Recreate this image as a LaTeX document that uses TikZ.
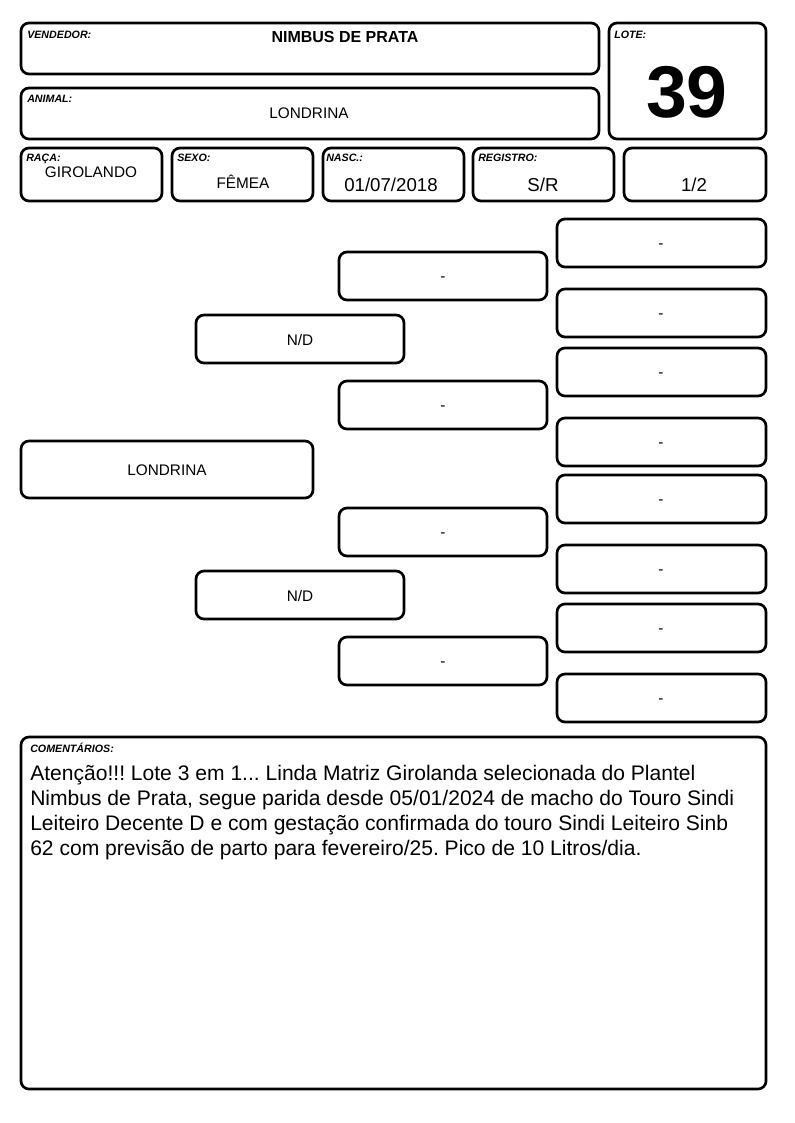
\documentclass[tikz,border=0pt]{standalone}
\usepackage{fontspec}
\setmainfont{Liberation Sans}
\frenchspacing

\begin{document}
\begin{tikzpicture}[x=0.75pt,y=-0.75pt,
    box/.style={draw,line width=2pt,rounded corners=6pt},
    tag/.style={anchor=base west,inner sep=0pt,font=\fontsize{8}{9}\selectfont\bfseries\itshape},
    val/.style={anchor=base,inner sep=0pt,font=\fontsize{11.5}{13}\selectfont},
    big/.style={anchor=base,inner sep=0pt,font=\fontsize{14}{16}\selectfont}]
  % Page
  \fill[white] (0,0) rectangle (794,1123);
  \useasboundingbox (0,0) rectangle (794,1123);
  % Header
  \draw[box] (21,23) rectangle (599,74);
  \node[tag] (vendtag) at (27,39) {VENDEDOR:};
  \node[val,font=\fontsize{12}{13}\selectfont\bfseries] (vend) at (345,43) {NIMBUS DE PRATA};
  \draw[box] (21,88) rectangle (599,139);
  \node[tag] (animaltag) at (27,103) {ANIMAL:};
  \node[val] (animal) at (309,119) {LONDRINA};
  \draw[box] (609,23) rectangle (766,139);
  \node[tag] (lotetag) at (614,39) {LOTE:};
  \node[anchor=base,inner sep=0pt,font=\fontsize{55}{60}\selectfont\bfseries] (lote) at (687,118) {39};
  % -- data row
  \draw[box] (21,148) rectangle (162,201);
  \node[tag] (racatag) at (26,162) {RAÇA:};
  \node[val] (raca) at (91,178) {GIROLANDO};
  \draw[box] (172,148) rectangle (313,201);
  \node[tag] (sexotag) at (177,162) {SEXO:};
  \node[val] (sexo) at (243,189) {FÊMEA};
  \draw[box] (323,148) rectangle (464,201);
  \node[tag] (nasctag) at (326,162) {NASC.:};
  \node[big] (nasc) at (391,192) {01/07/2018};
  \draw[box] (473,148) rectangle (614,201);
  \node[tag] (regtag) at (478,162) {REGISTRO:};
  \node[big] (reg) at (543,192) {S/R};
  \draw[box] (624,148) rectangle (766,201);
  \node[big] (part) at (694,192) {1/2};
  % Pedigree
  \draw[box] (21,441) rectangle (313,498);
  \node[val,anchor=center] (animal2) at (167,470) {LONDRINA};
  \draw[box] (196,315) rectangle (404,363);
  \node[val,anchor=center] (pai) at (300,340) {N/D};
  \draw[box] (196,571) rectangle (404,619);
  \node[val,anchor=center] (mae) at (300,596) {N/D};
  % -- grandparents
  \foreach \y/\n in {252/a,381/b,508/c,637/d}{
    \draw[box] (339,\y) rectangle (547,\y+48);
    \node[val,anchor=center] (avo\n) at (443,\y+27) {-};
  }
  % -- great-grandparents
  \foreach \y/\n in {219/a,289/b,348/c,418/d,475/e,545/f,604/g,674/h}{
    \draw[box] (557,\y) rectangle (766,\y+48);
    \node[val,anchor=center] (bis\n) at (661,\y+27) {-};
  }
  % Comments
  \draw[box] (21,737) rectangle (766,1089);
  \node[tag] (comtag) at (30,752) {COMENTÁRIOS:};
  \node[anchor=north west,inner sep=0pt,align=left,
        font=\fontsize{15.8}{18.75}\selectfont] (com) at (30,765)
    {Atenção!!! Lote 3 em 1... Linda Matriz Girolanda selecionada do Plantel\\
     Nimbus de Prata, segue parida desde 05/01/2024 de macho do Touro Sindi\\
     Leiteiro Decente D e com gestação confirmada do touro Sindi Leiteiro Sinb\\
     62 com previsão de parto para fevereiro/25. Pico de 10 Litros/dia.};
\end{tikzpicture}
\end{document}
